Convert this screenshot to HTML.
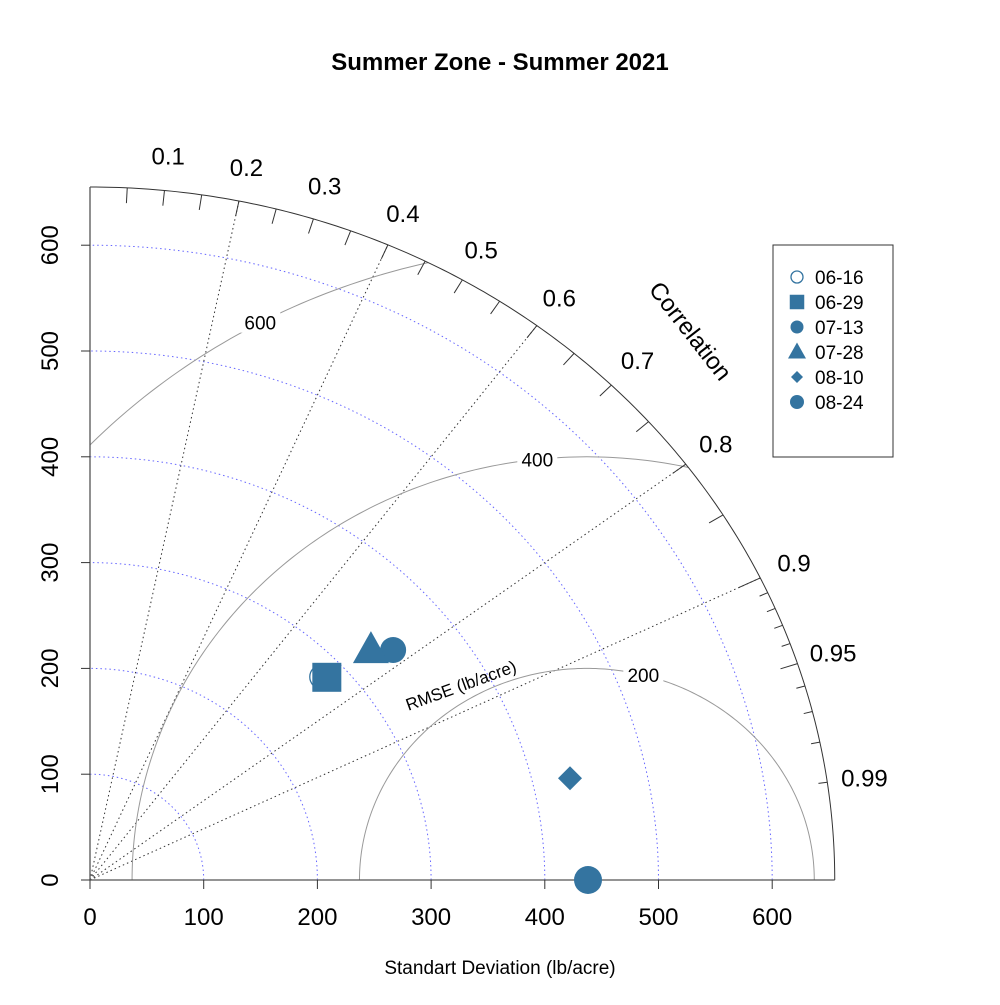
<!DOCTYPE html>
<html><head><meta charset="utf-8"><style>
html,body{margin:0;padding:0;background:#fff;}
svg text{font-family:"Liberation Sans",Arial,sans-serif;}
</style></head><body>
<svg id="chart" width="1000" height="1000" viewBox="0 0 1000 1000" xmlns="http://www.w3.org/2000/svg">
<defs><clipPath id="sector"><path id="sectorPath"/></clipPath></defs>
<rect width="1000" height="1000" fill="#fff"/>
<text x="500" y="70" text-anchor="middle" font-size="24" font-weight="bold">Summer Zone - Summer 2021</text>
<g id="g"></g>
</svg>
<script>
const sdTicks=[0,100,200,300,400,500,600];
const corLabels=[0.1,0.2,0.3,0.4,0.5,0.6,0.7,0.8,0.9,0.95,0.99];
const corLines=[0.2,0.4,0.6,0.8,0.9];
const corTicks=[0.05,0.1,0.15,0.2,0.25,0.3,0.35,0.4,0.45,0.5,0.55,0.6,0.65,0.7,0.75,0.8,0.85];
const corBigTicks=[0.9,0.95];
const corSmallTicks=[0.91,0.92,0.93,0.94,0.96,0.97,0.98,0.99];
const rmseLevels=[200,400,600];
const obsSd=437;
const maxSd=655;
const seriesNames=["06-16","06-29","07-13","07-28","08-10","08-24"];
const seriesSd=[280,283,344,329,433,438];
const seriesCor=[0.728,0.736,0.775,0.751,0.975,1.0];
const seriesShape=["open-circle","square","circle","triangle","diamond","big-circle"];

const NS="http://www.w3.org/2000/svg";
const g=document.getElementById('g');
const X0=90,Y0=880,KX=1.137,KY=1.058;
const px=x=>X0+x*KX, py=y=>Y0-y*KY;
const C="#3474A0";
function el(t,a,p){const e=document.createElementNS(NS,t);for(const k in a)e.setAttribute(k,a[k]);(p||g).appendChild(e);return e;}
function arcPts(cx,r,a0,a1,n){let s=[];for(let i=0;i<=n;i++){const a=a0+(a1-a0)*i/n;s.push(px(cx+r*Math.cos(a)).toFixed(2)+","+py(r*Math.sin(a)).toFixed(2));}return s.join(" ");}

document.getElementById('sectorPath').setAttribute('d',"M"+px(0)+","+py(0)+" L"+arcPts(0,maxSd,0,Math.PI/2,120).split(" ").join(" L")+" Z");

sdTicks.slice(1).forEach(s=>{
  const e=el('polyline',{points:arcPts(0,s,0,Math.PI/2,120),fill:'none',stroke:'#6666ff','stroke-width':1,'stroke-dasharray':'1.5,3'});
  
  
});
corLines.forEach(c=>{
  const a=Math.acos(c);
  const e=el('line',{x1:px(0),y1:py(0),x2:px(maxSd*c),y2:py(maxSd*Math.sin(a)),stroke:'#333','stroke-width':1,'stroke-dasharray':'1.5,3'});
  
  
});
const rg=el('g',{'clip-path':'url(#sector)'});
rmseLevels.forEach(r=>{
  const e=el('polyline',{points:arcPts(obsSd,r,0,Math.PI,240),fill:'none',stroke:'#999','stroke-width':1},rg);
  
  
});
const rmseAng={200:1.32,400:1.68,600:2.07};
rmseLevels.forEach(r=>{
  const a=rmseAng[r];const x=px(obsSd+r*Math.cos(a)),y=py(r*Math.sin(a));
  el('rect',{x:x-20,y:y-11,width:40,height:21,fill:'#fff'});
  const t=el('text',{x:x,y:y+7,'text-anchor':'middle','font-size':19});
  t.textContent=r;
  
  
});
const rt=el('text',{x:463,y:691,'text-anchor':'middle','font-size':17,transform:'rotate(-20 463 691)'});
rt.textContent="RMSE (lb/acre)";



el('polyline',{points:arcPts(0,maxSd,0,Math.PI/2,200),fill:'none',stroke:'#333','stroke-width':1});
el('line',{x1:px(0),y1:py(0),x2:px(0),y2:py(maxSd),stroke:'#555','stroke-width':1.3});
el('line',{x1:px(0),y1:py(0),x2:px(maxSd),y2:py(0),stroke:'#555','stroke-width':1.3});
sdTicks.forEach(s=>{
  el('line',{x1:px(s),y1:Y0,x2:px(s),y2:Y0+9,stroke:'#333'});
  const t=el('text',{x:px(s),y:Y0+45,'text-anchor':'middle','font-size':24});
  t.textContent=s;
  
  
  el('line',{x1:X0-9,y1:py(s),x2:X0,y2:py(s),stroke:'#333'});
  const yl=X0-32,yy=py(s);
  const t2=el('text',{x:yl,y:yy,'text-anchor':'middle','font-size':24,transform:'rotate(-90 '+yl+' '+yy+')'});
  t2.textContent=s;
  
  
});
function tick(c,f){const a=Math.acos(c),ca=Math.cos(a),sa=Math.sin(a);
  el('line',{x1:px(maxSd*ca),y1:py(maxSd*sa),x2:px(maxSd*(1-f)*ca),y2:py(maxSd*(1-f)*sa),stroke:'#333'});}
corTicks.forEach(c=>tick(c,0.022));
tick(corBigTicks[0],0.032);tick(corBigTicks[1],0.024);
corSmallTicks.forEach(c=>tick(c,0.012));
corLabels.forEach(c=>{
  const a=Math.acos(c),ca=Math.cos(a),sa=Math.sin(a);
  const t=el('text',{x:px(688*ca),y:py(688*sa)+9,'text-anchor':'middle','font-size':24});
  t.textContent=c;
  
  
});
const ct=el('text',{x:684,y:336,'text-anchor':'middle','font-size':24,transform:'rotate(52 684 336)'});
ct.textContent="Correlation";


const xt=el('text',{x:500,y:974,'text-anchor':'middle','font-size':19});
xt.textContent="Standart Deviation (lb/acre)";



function marker(shape,x,y,s,parent){
  let e;
  if(shape==='open-circle')e=el('circle',{cx:x,cy:y,r:12*s,fill:'none',stroke:C,'stroke-width':1.3},parent);
  else if(shape==='square')e=el('rect',{x:x-14.5*s,y:y-14.5*s,width:29*s,height:29*s,fill:C},parent);
  else if(shape==='circle')e=el('circle',{cx:x,cy:y,r:13*s,fill:C},parent);
  else if(shape==='big-circle')e=el('circle',{cx:x,cy:y,r:14*s,fill:C},parent);
  else if(shape==='triangle')e=el('polygon',{points:`${x},${y-19*s} ${x+18*s},${y+13*s} ${x-18*s},${y+13*s}`,fill:C},parent);
  else e=el('polygon',{points:`${x},${y-12*s} ${x+12*s},${y} ${x},${y+12*s} ${x-12*s},${y}`,fill:C},parent);
  return e;
}
seriesNames.forEach((n,i)=>{
  const sd=seriesSd[i],c=seriesCor[i];
  const m=marker(seriesShape[i],px(sd*c),py(sd*Math.sqrt(Math.max(0,1-c*c))),1);
  
  
});
const lg=el('g',{});


el('rect',{x:773,y:245,width:120,height:212,fill:'#fff',stroke:'#333'},lg);
seriesNames.forEach((n,i)=>{
  const y=277+i*25;
  const m=marker(seriesShape[i],797,y,0.5,lg);
  
  
  const t=el('text',{x:815,y:y+7,'font-size':19},lg);
  t.textContent=n;
  
  
});
</script>
</body></html>
